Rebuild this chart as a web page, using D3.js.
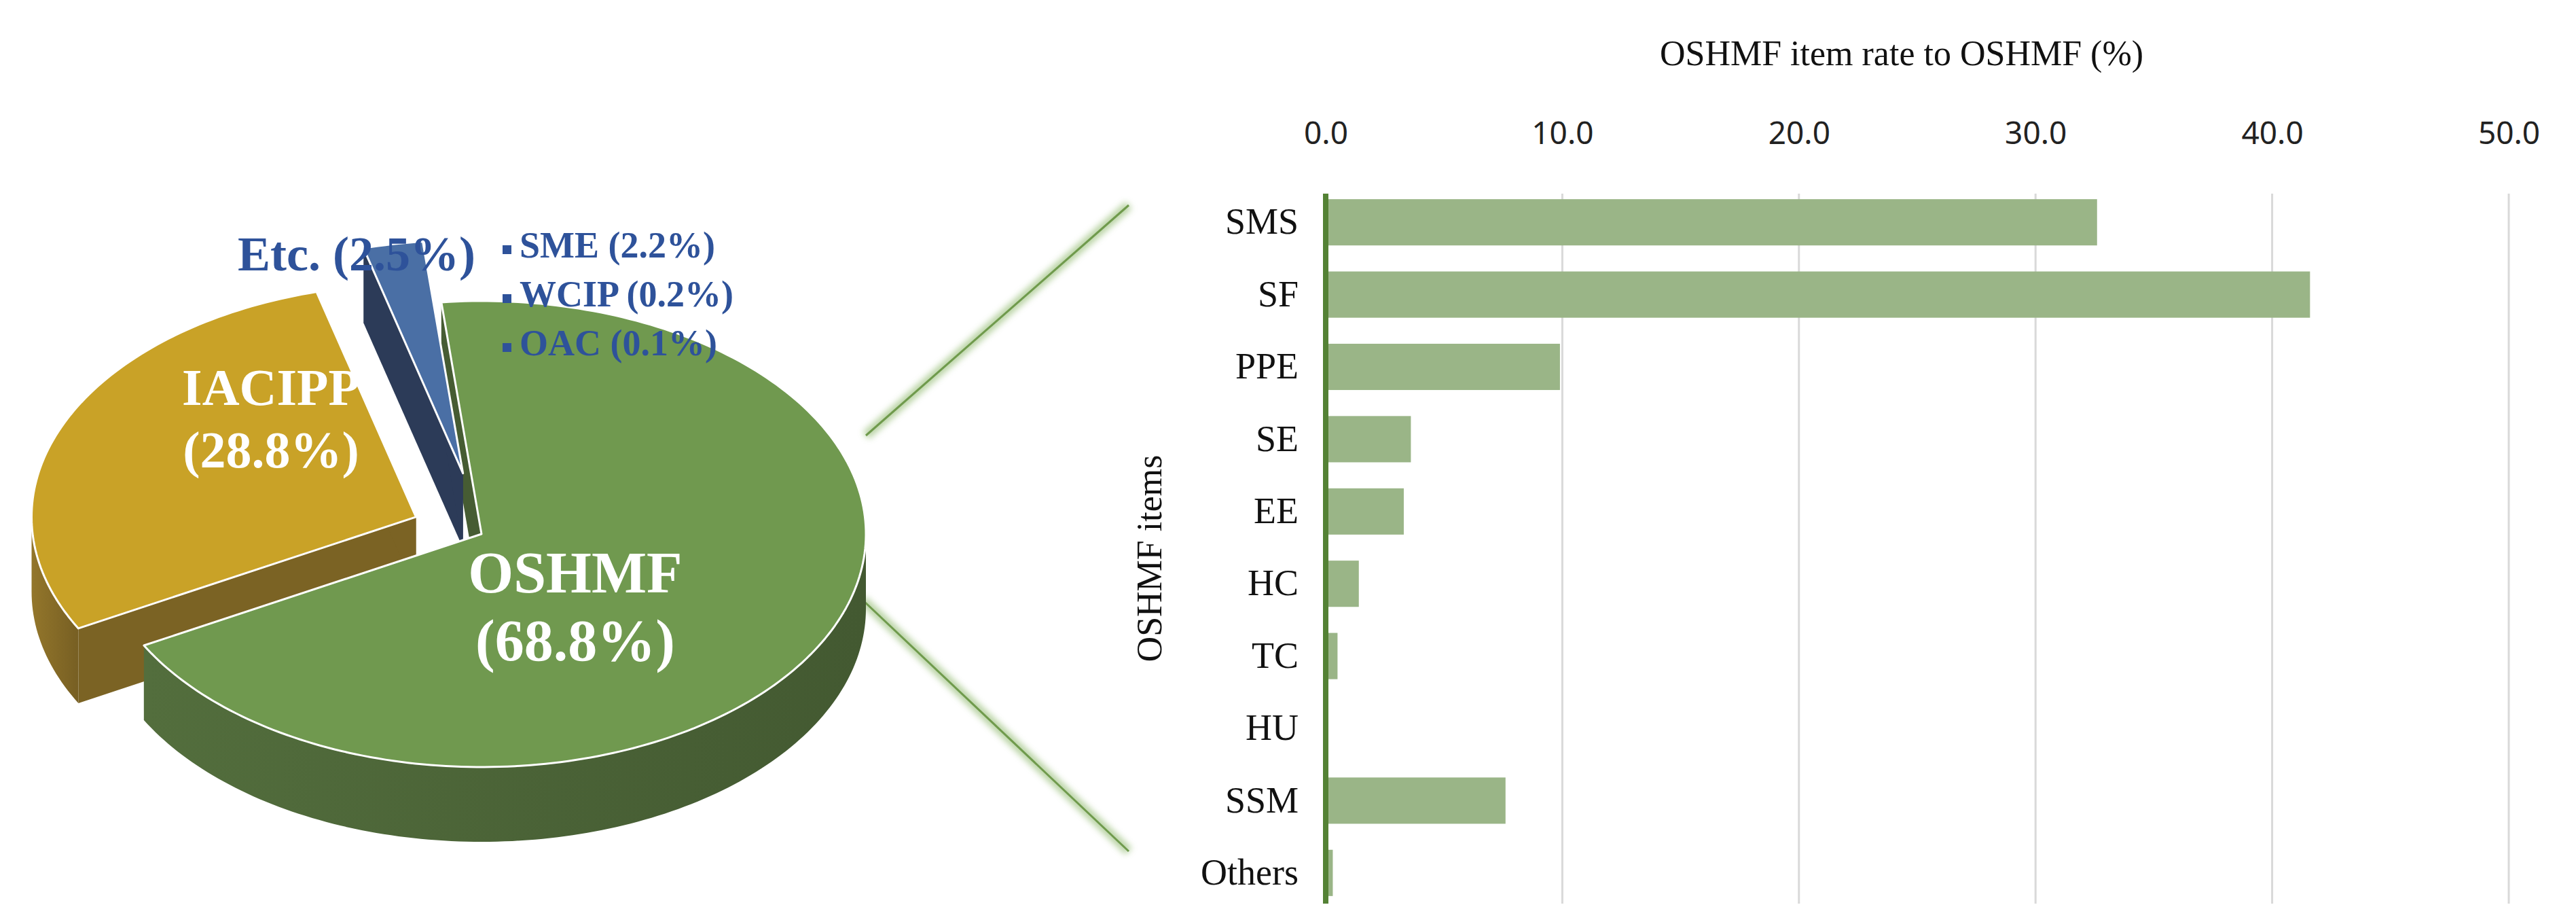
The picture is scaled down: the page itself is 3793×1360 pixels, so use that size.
<!DOCTYPE html>
<html><head><meta charset="utf-8">
<script src="https://cdn.jsdelivr.net/npm/d3@7"></script>
<style>body{margin:0;background:#fff}</style></head>
<body><svg id="c" width="3793" height="1360"></svg>
<script>
const pieLabels = ["OSHMF","IACIPP","Etc."];
const pieValues = [68.8, 28.8, 2.5];
const etcItems = ["SME (2.2%)","WCIP (0.2%)","OAC (0.1%)"];
const categories = ["SMS","SF","PPE","SE","EE","HC","TC","HU","SSM","Others"];
const barValues = [32.6, 41.6, 9.9, 3.6, 3.3, 1.4, 0.5, 0.1, 7.6, 0.3];
const xTicks = [0,10,20,30,40,50];

const svg = d3.select("#c");
const serif = "'Liberation Serif','DejaVu Serif',serif";
const defs = svg.append("defs");
defs.append("filter").attr("id","glow").append("feGaussianBlur").attr("stdDeviation",5);

// ---------- zoom lines
const zl = svg.append("g");
[[1275,641,1662,302],[1270,883,1662,1253]].forEach(l=>{
  zl.append("line").attr("x1",l[0]).attr("y1",l[1]).attr("x2",l[2]).attr("y2",l[3])
    .attr("stroke","#a9c98f").attr("stroke-width",14).attr("filter","url(#glow)").attr("opacity",0.8);
  zl.append("line").attr("x1",l[0]).attr("y1",l[1]).attr("x2",l[2]).attr("y2",l[3])
    .attr("stroke","#6f9a4c").attr("stroke-width",3);
});

// ---------- pie 3D
const cx=709, cy=786, rx=566, ry=343, depth=110;
const topCol=["#70994f","#c9a227","#4a6fa5"], sideCol=["#4b6337","#846a27","#2f3f5e"];
const explode=[0,105,150];
const pie = d3.pie().sort(null).startAngle(-6*Math.PI/180).endAngle(354*Math.PI/180+0.02)(pieValues);
function pt(a,ox,oy,dz){return [ox+cx+rx*Math.sin(a), oy+cy-ry*Math.cos(a)+dz];}
const pg = svg.append("g");
const sl = pie.map((p,i)=>{const m=(p.startAngle+p.endAngle)/2;
  return {p,i,ox:explode[i]*Math.sin(m),oy:-explode[i]*Math.cos(m)*ry/rx};});
function arcPts(a0,a1,ox,oy,dz){const n=Math.max(2,Math.ceil((a1-a0)/0.02));const r=[];
  for(let k=0;k<=n;k++)r.push(pt(a0+(a1-a0)*k/n,ox,oy,dz));return r;}
const line=d3.line();
// radial walls
sl.forEach(s=>{[s.p.startAngle,s.p.endAngle].forEach(a=>{
  const c=[cx+s.ox,cy+s.oy], e=pt(a,s.ox,s.oy,0);
  pg.append("path").attr("d",line([c,e,[e[0],e[1]+depth],[c[0],c[1]+depth]])+"Z")
    .attr("fill",d3.color(sideCol[s.i]).darker(0.2));});});
// outer walls (front: angles between PI/2 and 3PI/2)
sl.forEach(s=>{
  const a0=Math.max(s.p.startAngle,Math.PI/2), a1=Math.min(s.p.endAngle,3*Math.PI/2);
  if(a1<=a0)return;
  const topA=arcPts(a0,a1,s.ox,s.oy,0), bot=arcPts(a0,a1,s.ox,s.oy,depth).reverse();
  const gid="sg"+s.i;
  const g=defs.append("linearGradient").attr("id",gid).attr("x1",0).attr("x2",1);
  g.append("stop").attr("offset",0).attr("stop-color",d3.color(sideCol[s.i]).brighter(0.3));
  g.append("stop").attr("offset",1).attr("stop-color",d3.color(sideCol[s.i]).darker(0.3));
  pg.append("path").attr("d",line(topA.concat(bot))+"Z").attr("fill","url(#"+gid+")");
});
// top faces
sl.forEach(s=>{
  const pts=[[cx+s.ox,cy+s.oy]].concat(arcPts(s.p.startAngle,s.p.endAngle,s.ox,s.oy,0));
  pg.append("path").attr("d",line(pts)+"Z").attr("fill",topCol[s.i])
    .attr("stroke","#fff").attr("stroke-width",3).attr("stroke-linejoin","round");
});
// pie labels
const lab=svg.append("g").attr("font-family",serif).attr("font-weight","bold").attr("text-anchor","middle");
lab.append("text").attr("x",399).attr("y",596).attr("font-size",76).attr("fill","#fff").text(pieLabels[1]);
lab.append("text").attr("x",399).attr("y",688).attr("font-size",76).attr("fill","#fff").text("("+pieValues[1]+"%)");
lab.append("text").attr("x",847).attr("y",872).attr("font-size",86).attr("fill","#fff").text(pieLabels[0]);
lab.append("text").attr("x",847).attr("y",972).attr("font-size",86).attr("fill","#fff").text("("+pieValues[0]+"%)");
lab.append("text").attr("x",525).attr("y",398).attr("font-size",72).attr("fill","#2e529a").text(pieLabels[2]+" ("+pieValues[2]+"%)");
etcItems.forEach((t,i)=>{
  const y=375+i*72;
  lab.append("rect").attr("x",740).attr("y",y-14).attr("width",13).attr("height",13).attr("fill","#2e529a");
  lab.append("text").attr("x",765).attr("y",y+4).attr("text-anchor","start").attr("font-size",54).attr("fill","#2e529a").text(t);
});

// ---------- bar chart
const x=d3.scaleLinear().domain([0,50]).range([1952,3694]);
const y=d3.scaleBand().domain(categories).range([274,1338]).paddingInner(0.36).paddingOuter(0.18);
const bc=svg.append("g");
bc.selectAll(".grid").data(xTicks.slice(1)).join("line").attr("x1",d=>x(d)).attr("x2",d=>x(d))
  .attr("y1",285).attr("y2",1330).attr("stroke","#d9d9d9").attr("stroke-width",3);
bc.selectAll(".bar").data(barValues).join("rect").attr("x",x(0)).attr("y",(d,i)=>y(categories[i]))
  .attr("width",d=>x(d)-x(0)).attr("height",y.bandwidth()).attr("fill","#9ab587");
bc.append("line").attr("x1",x(0)).attr("x2",x(0)).attr("y1",285).attr("y2",1330).attr("stroke","#548235").attr("stroke-width",8);
const xa=d3.axisTop(x).tickValues(xTicks).tickFormat(d3.format(".1f")).tickSize(0);
bc.append("g").attr("transform","translate(0,215)").call(xa).call(g=>g.select(".domain").remove())
  .selectAll("text").attr("font-family","'Noto Sans','DejaVu Sans',sans-serif").attr("font-size",46).attr("fill","#222");
const ya=d3.axisLeft(y).tickSize(0).tickPadding(40);
bc.append("g").attr("transform","translate("+x(0)+",0)").call(ya).call(g=>g.select(".domain").remove())
  .selectAll("text").attr("font-family",serif).attr("font-size",54).attr("fill","#111");
bc.append("text").attr("x",2800).attr("y",96).attr("text-anchor","middle").attr("font-family",serif)
  .attr("font-size",52).attr("fill","#111").text("OSHMF  item rate to OSHMF (%)");
bc.append("text").attr("transform","translate(1710,822) rotate(-90)").attr("text-anchor","middle")
  .attr("font-family",serif).attr("font-size",52).attr("fill","#111").text("OSHMF  items");
</script></body></html>
